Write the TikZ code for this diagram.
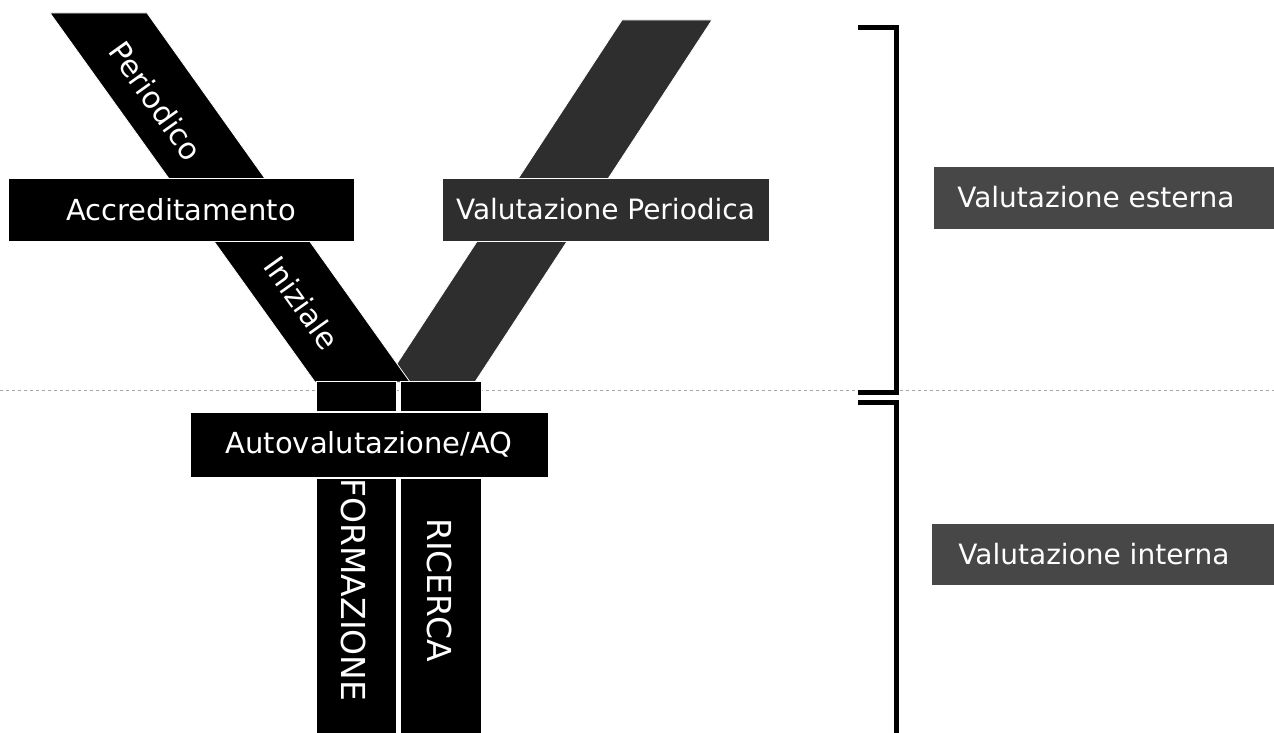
\documentclass[tikz,border=0pt]{standalone}
\usepackage{fontspec}
\setmainfont{DejaVu Sans}

\begin{document}
\begin{tikzpicture}[x=1pt, y=-1pt,
  blackbox/.style={fill=black, draw=white, line width=0.8pt, text=white, inner sep=0pt},
  greybox/.style={fill=black!72, draw=white, line width=0.8pt, text=white, inner sep=0pt},
  darkbox/.style={greybox, fill=black!82},
  bandtext/.style={text=white, font=\fontsize{30}{32}\selectfont},
  bracket/.style={line width=5pt, line cap=butt}]

\useasboundingbox (0, 0) rectangle (1274, 733);
\fill[white] (0, 0) rectangle (1274, 733);
\draw[black!35, dashed, thin] (0, 390) -- (1274, 390);

% bande della Y
\draw[darkbox] (622, 20) -- (712, 20) -- (475, 382) -- (385, 382) -- cycle;
\draw[blackbox] (50, 13) -- (147, 13) -- (410, 382) -- (315, 382) -- cycle;
\node[bandtext, rotate=-54.5] (periodico) at (156, 101) {Periodico};
\node[bandtext, rotate=-54.5] (iniziale) at (302, 303) {Iniziale};

\node[blackbox, minimum width=346, minimum height=63, font=\fontsize{29}{32}\selectfont] (accr) at (181, 209.5) {Accreditamento};
\node[darkbox, minimum width=327, minimum height=63, font=\fontsize{28}{30}\selectfont] (valper) at (605.5, 209.5) {Valutazione Periodica};

% tronco
\node[blackbox, minimum width=80, minimum height=30] (stemf) at (356, 396) {};
\node[blackbox, minimum width=81, minimum height=30] (stemr) at (440.5, 396) {};
\node[blackbox, minimum width=358, minimum height=65, font=\fontsize{29}{32}\selectfont] (auto) at (369, 444.5) {Autovalutazione/AQ};
\draw[blackbox] (316, 478) rectangle (396, 740);
\draw[blackbox] (400, 478) rectangle (481, 740);
\node[bandtext, rotate=-90, font=\fontsize{33}{35}\selectfont] (form) at (354, 590) {FORMAZIONE};
\node[bandtext, rotate=-90, font=\fontsize{33}{35}\selectfont] (ric) at (440, 590) {RICERCA};

% parentesi
\draw[bracket] (858, 28) -- (896, 28) -- (896, 392) -- (858, 392);
\draw[bracket] (858, 402) -- (896, 402) -- (896, 733);

\node[greybox, anchor=west, minimum width=345, minimum height=63, font=\fontsize{28}{30}\selectfont] (est) at (933, 197.5) {\hspace*{-20pt}Valutazione esterna};
\node[greybox, anchor=west, minimum width=345, minimum height=62, font=\fontsize{28}{30}\selectfont] (int) at (931, 554) {\hspace*{-20pt}Valutazione interna};

\end{tikzpicture}
\end{document}
